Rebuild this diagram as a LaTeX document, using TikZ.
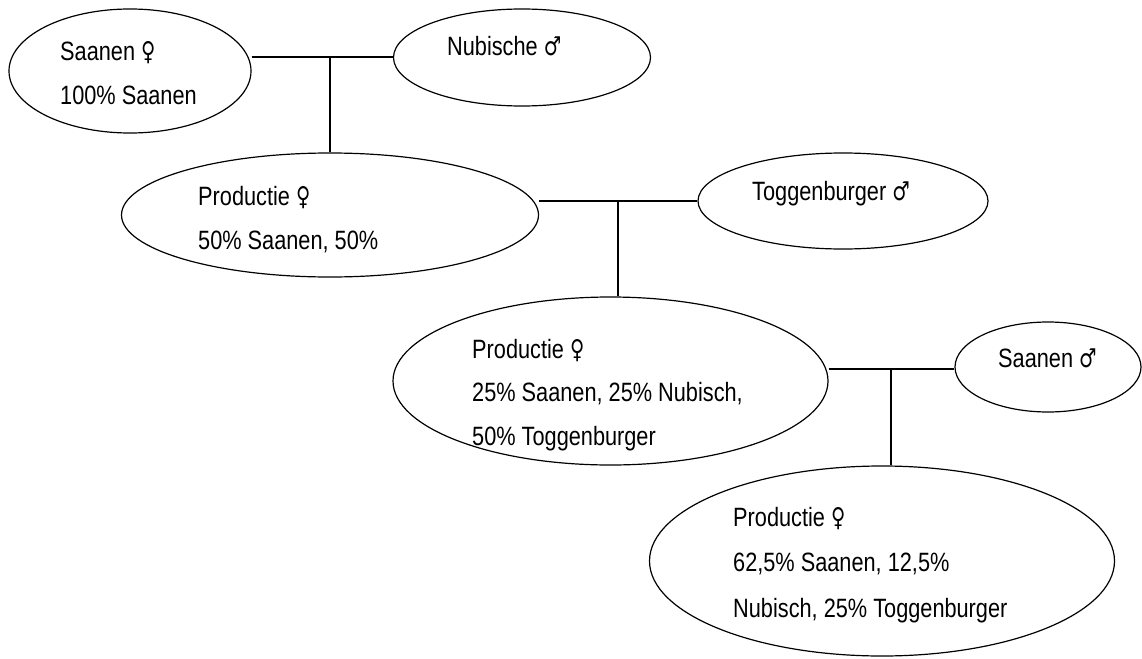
\documentclass[tikz,border=0pt]{standalone}
\usepackage{fontspec}
\setmainfont{Liberation Sans}[FakeStretch=0.82]
\newfontfamily\symfnt{DejaVu Sans}[FakeStretch=0.75]
\usetikzlibrary{shapes.geometric}
\newcommand{\fem}{{\symfnt\fontsize{26}{30}\selectfont ♀}}
\newcommand{\mal}{{\symfnt\fontsize{26}{30}\selectfont ♂}}
\tikzset{
  oval/.style={draw, ellipse, line width=1.2pt, inner sep=0pt},
  lbl/.style={anchor=base west, inner sep=0pt, font=\fontsize{26.5}{30}\selectfont},
  link/.style={line width=1.2pt}
}
\begin{document}
\begin{tikzpicture}[x=1pt,y=-1pt]
\useasboundingbox (0,0) rectangle (1142,658);
% ellipses
\node[oval, minimum width=242pt, minimum height=124pt] (e1) at (130,71) {};
\node[oval, minimum width=257pt, minimum height=97pt] (e2) at (522,57.5) {};
\node[oval, minimum width=417pt, minimum height=124pt] (e3) at (330,215) {};
\node[oval, minimum width=290pt, minimum height=96pt] (e4) at (843,201) {};
\node[oval, minimum width=435pt, minimum height=168pt] (e5) at (610.5,381) {};
\node[oval, minimum width=186pt, minimum height=90pt] (e7) at (1048,367) {};
\node[oval, minimum width=465pt, minimum height=190pt] (e6) at (882,561) {};
% texts
\node[lbl] (t1a) at (60,61) {Saanen \fem};
\node[lbl] (t1b) at (60,105) {100\% Saanen};
\node[lbl] (t2) at (447,56) {Nubische \mal};
\node[lbl] (t3a) at (198,205) {Productie \fem};
\node[lbl] (t3b) at (198,249) {50\% Saanen, 50\%};
\node[lbl] (t4) at (752,200) {Toggenburger \mal};
\node[lbl] (t5a) at (472,358) {Productie \fem};
\node[lbl] (t5b) at (472,401) {25\% Saanen, 25\% Nubisch,};
\node[lbl] (t5c) at (472,445) {50\% Toggenburger};
\node[lbl] (t7) at (998,367) {Saanen \mal};
\node[lbl] (t6a) at (733,526) {Productie \fem};
\node[lbl] (t6b) at (733,571) {62,5\% Saanen, 12,5\%};
\node[lbl] (t6c) at (733,617) {Nubisch, 25\% Toggenburger};
% junctions
\coordinate (j1) at (330,57);
\coordinate (j2) at (618,201);
\coordinate (j3) at (891,369);
% connectors
\draw[link] (e1.east |- j1) -- (e2.west |- j1);
\draw[link] (j1) -- (e3.north);
\draw[link] (e3.east |- j2) -- (e4.west |- j2);
\draw[link] (j2) -- (j2 |- e5.north);
\draw[link] (e5.east |- j3) -- (e7.west |- j3);
\draw[link] (j3) -- (j3 |- e6.north);
\end{tikzpicture}
\end{document}
